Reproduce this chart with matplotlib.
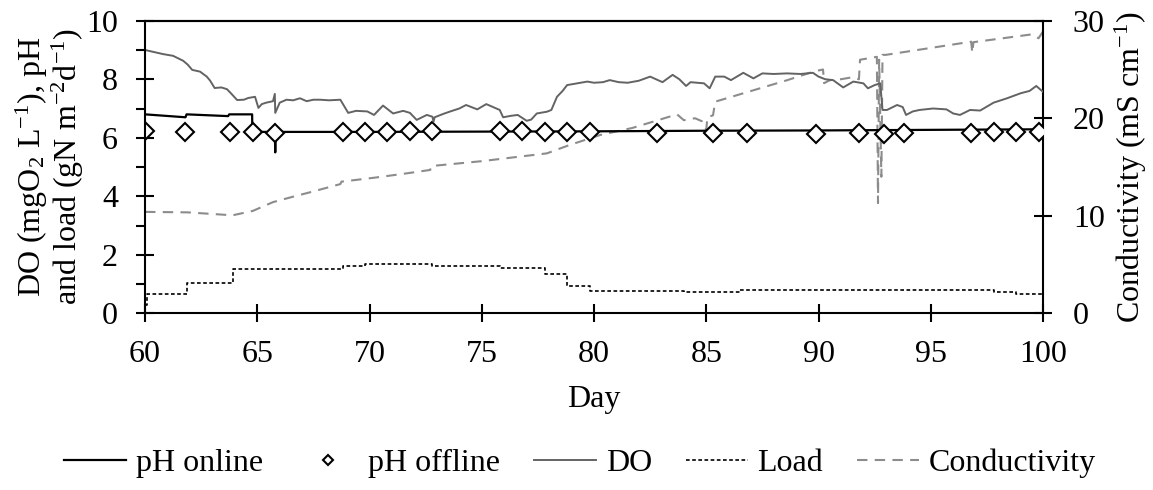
import matplotlib
matplotlib.use("Agg")
import matplotlib.pyplot as plt
from matplotlib.ticker import MultipleLocator

# --- data ---
ph_day = [60.0, 61.8, 61.85, 63.7, 63.75, 64.77, 64.78, 65.78, 65.8, 65.82,
          70.0, 75.0, 80.0, 85.0, 90.0, 95.0, 100.0]
ph_val = [6.8, 6.7, 6.8, 6.74, 6.8, 6.8, 6.2, 6.2, 5.5, 6.2,
          6.2, 6.21, 6.22, 6.24, 6.25, 6.27, 6.29]

phoff_day = [60.0, 61.8, 63.8, 64.8, 65.8, 68.8, 69.8, 70.8, 71.8, 72.8,
             75.8, 76.8, 77.8, 78.8, 79.8, 82.8, 85.3, 86.8, 89.9, 91.8,
             92.9, 93.8, 96.8, 97.8, 98.8, 99.8]
phoff_val = [6.23, 6.18, 6.18, 6.18, 6.15, 6.18, 6.18, 6.2, 6.22, 6.22,
             6.22, 6.22, 6.2, 6.2, 6.18, 6.17, 6.15, 6.15, 6.13, 6.17,
             6.13, 6.15, 6.15, 6.2, 6.18, 6.18]

do_day = [60.0, 60.4, 60.8, 61.25, 61.7, 61.9, 62.1, 62.45, 62.75, 62.9,
          63.1, 63.4, 63.65, 63.85, 64.1, 64.4, 64.6, 64.9, 65.05, 65.2,
          65.4, 65.7, 65.78, 65.8, 66.0, 66.3, 66.6, 66.9, 67.2, 67.5,
          67.8, 68.2, 68.7, 69.05, 69.4, 69.9, 70.2, 70.6, 71.05, 71.5,
          71.8, 72.1, 72.55, 72.8, 72.85, 72.9, 73.3, 73.6, 74.0, 74.3,
          74.8, 75.2, 75.5, 75.8, 75.95, 76.3, 76.6, 77.0, 77.2, 77.45,
          77.9, 78.1, 78.35, 78.6, 78.8, 79.25, 79.7, 80.0, 80.4, 80.7,
          81.1, 81.5, 82.0, 82.5, 83.05, 83.5, 83.8, 84.1, 84.3, 84.6,
          84.9, 85.15, 85.4, 85.8, 86.1, 86.65, 87.1, 87.5, 88.0, 88.6,
          89.2, 89.75, 90.0, 90.3, 90.65, 91.1, 91.55, 92.0, 92.2, 92.5,
          92.75, 92.85, 93.05, 93.5, 93.75, 93.9, 94.2, 94.5, 95.1, 95.7,
          96.0, 96.3, 96.75, 97.2, 97.8, 98.4, 99.0, 99.4, 99.7, 100.0]
do_val = [9.0, 8.93, 8.86, 8.8, 8.63, 8.5, 8.32, 8.26, 8.09, 7.95,
          7.7, 7.72, 7.66, 7.5, 7.29, 7.3, 7.36, 7.4, 7.02, 7.15,
          7.2, 7.25, 7.5, 6.85, 7.2, 7.3, 7.28, 7.35, 7.25, 7.3,
          7.3, 7.28, 7.3, 6.85, 6.92, 6.9, 6.78, 7.1, 6.83, 6.92,
          6.85, 6.61, 6.78, 6.72, 6.55, 6.7, 6.82, 6.9, 7.0, 7.12,
          6.97, 7.15, 7.05, 6.95, 6.7, 6.75, 6.78, 6.58, 6.62, 6.83,
          6.89, 6.95, 7.4, 7.6, 7.8, 7.86, 7.92, 7.88, 7.9, 7.97,
          7.9, 7.88, 7.95, 8.09, 7.9, 8.15, 8.0, 7.77, 7.9, 7.88,
          7.86, 7.69, 8.09, 8.09, 7.97, 8.22, 8.03, 8.2, 8.18, 8.2,
          8.18, 8.22, 8.09, 8.0, 7.97, 7.72, 7.92, 7.86, 7.69, 7.8,
          7.86, 6.95, 6.95, 7.12, 7.05, 6.78, 6.9, 6.95, 7.0, 6.97,
          6.83, 6.78, 6.95, 6.93, 7.2, 7.35, 7.52, 7.6, 7.77, 7.57]

load_day = [60.0, 60.1, 61.85, 63.9, 68.8, 69.8, 72.8, 75.8, 77.8, 78.8,
            79.8, 84.0, 86.5, 92.7, 97.8, 98.8, 100.0]
load_val = [0.3, 0.65, 1.05, 1.5, 1.62, 1.7, 1.6, 1.55, 1.35, 0.95,
            0.76, 0.72, 0.8, 0.78, 0.72, 0.66, 0.66]

cond_day = [60.0, 61.9, 63.9, 64.8, 65.7, 66.5, 67.5, 68.7, 68.75, 70.2,
            71.5, 72.7, 72.75, 75.0, 77.9, 78.9, 80.3, 81.7, 83.7, 84.0,
            84.5, 84.8, 85.0, 85.05, 85.3, 85.4, 88.6, 89.8, 90.2, 90.25,
            90.5, 91.0, 91.5, 91.8, 91.85, 92.6, 92.65, 92.7, 92.8, 92.85,
            93.0, 96.8, 96.85, 96.9, 99.5, 99.8, 100.0]
cond_val = [10.4, 10.35, 10.05, 10.5, 11.4, 11.9, 12.5, 13.25, 13.5, 13.9,
            14.3, 14.7, 15.1, 15.6, 16.4, 17.25, 18.3, 19.0, 20.4, 19.8,
            20.0, 19.7, 18.8, 20.1, 20.3, 21.7, 23.9, 24.8, 25.0, 23.6,
            23.9, 24.0, 24.2, 24.0, 26.0, 26.3, 11.3, 26.0, 14.0, 26.5,
            26.5, 27.85, 26.7, 27.8, 28.6, 28.2, 28.9]

x_ticks = [60, 65, 70, 75, 80, 85, 90, 95, 100]

# --- style ---
plt.rcParams['font.family'] = ['Liberation Serif', 'DejaVu Serif']
plt.rcParams['mathtext.fontset'] = 'custom'
plt.rcParams['mathtext.rm'] = 'Liberation Serif'
plt.rcParams['mathtext.it'] = 'Liberation Serif:italic'
plt.rcParams['font.size'] = 23

fig = plt.figure(figsize=(11.53, 4.9), dpi=100)
ax = fig.add_axes([0.1258, 0.3606, 0.7788, 0.5971])
ax2 = ax.twinx()

h1, = ax.plot(ph_day, ph_val, color='black', lw=1.6, label='pH online')
h2, = ax.plot(phoff_day, phoff_val, ls='none', marker='D', ms=9, mfc='white',
              mec='black', mew=1.5, label='pH offline')
h3, = ax.plot(do_day, do_val, color='#636363', lw=1.4, label='DO')
h4, = ax.plot(load_day, load_val, color='black', lw=1.2, ls=(0, (2.2, 1.5)),
              drawstyle='steps-post', label='Load')
h5, = ax2.plot(cond_day, cond_val, color='#8c8c8c', lw=1.5, ls=(0, (5, 3.5)),
               label='Conductivity')
ax.set_zorder(ax2.get_zorder() + 1)
ax.patch.set_visible(False)

ax.set_xlim(60, 100)
ax.set_ylim(0, 10)
ax2.set_ylim(0, 30)
ax.set_xticks(x_ticks)
ax.yaxis.set_major_locator(MultipleLocator(2))
ax.yaxis.set_minor_locator(MultipleLocator(1))
ax2.set_yticks([0, 10, 20, 30])

for a in (ax, ax2):
    for s in a.spines.values():
        s.set_linewidth(1.5)
ax.spines['right'].set_visible(False)
ax2.spines['left'].set_visible(False)
ax2.spines['bottom'].set_visible(False)

ax.tick_params(axis='both', which='major', direction='inout', length=13, width=1.5)
ax.tick_params(axis='y', which='major', pad=13)
ax.tick_params(axis='x', which='major', pad=13)
ax.tick_params(axis='y', which='minor', direction='out', length=6.5, width=1.5)
ax2.tick_params(axis='y', which='major', direction='inout', length=13, width=1.5, pad=15)

ax.set_xlabel('Day', labelpad=11)
ax.set_ylabel('DO (mgO$\\mathregular{_2}$ L$\\mathregular{^{-1}}$), pH\n'
              'and load (gN m$\\mathregular{^{-2}}$d$\\mathregular{^{-1}}$)',
              linespacing=1.0, labelpad=0)
ax2.set_ylabel('Conductivity (mS cm$\\mathregular{^{-1}}$)', labelpad=6)

fig.legend(handles=[h1, h2, h3, h4, h5], loc='center', bbox_to_anchor=(0.503, 0.055),
           ncol=5, frameon=False, handlelength=1.95, handletextpad=0.3,
           columnspacing=1.05, markerscale=0.6)

fig.savefig('out.png', dpi=100)
